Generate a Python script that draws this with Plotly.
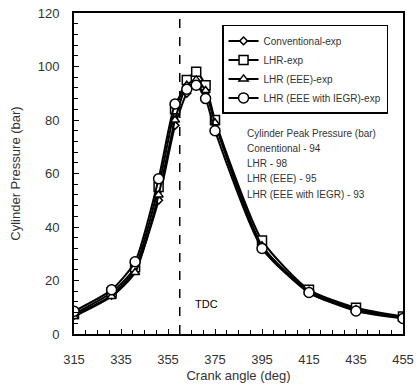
import plotly.graph_objects as go

crank_angle = [315, 331, 341, 351, 358, 363, 367, 371, 375, 395, 415, 435, 455]
conventional = [7.0, 14.5, 24.0, 50.0, 78.0, 90.0, 94.0, 91.0, 79.0, 33.0, 15.5, 9.0, 6.0]
lhr = [7.5, 15.5, 25.0, 55.0, 84.0, 95.0, 98.0, 93.0, 80.0, 35.0, 16.5, 9.8, 6.5]
lhr_eee = [6.5, 14.0, 23.0, 52.0, 80.0, 93.0, 95.0, 91.0, 79.0, 33.0, 16.0, 9.2, 6.3]
lhr_eee_iegr = [8.5, 16.5, 27.0, 58.0, 86.0, 91.5, 93.0, 88.0, 76.0, 32.0, 15.5, 8.6, 5.8]

series_names = ["Conventional-exp", "LHR-exp", "LHR (EEE)-exp", "LHR (EEE with IEGR)-exp"]
series_values = [conventional, lhr, lhr_eee, lhr_eee_iegr]
symbols = ["diamond", "square", "triangle-up", "circle"]
sizes = [6, 9, 8, 10]

TDC = 360
peak_lines = ["Cylinder Peak Pressure (bar)", "Conentional - 94", "LHR - 98",
              "LHR (EEE) - 95", "LHR (EEE with IEGR) - 93"]

FONT = "Liberation Sans"
TXT = "#333333"

fig = go.Figure()
for name, vals, sym, sz in zip(series_names, series_values, symbols, sizes):
    fig.add_trace(go.Scatter(
        x=crank_angle, y=vals, name=name, mode="lines+markers",
        line=dict(color="black", width=2, shape="spline", smoothing=0.6),
        marker=dict(symbol=sym, size=sz, color="white",
                    line=dict(color="black", width=1.5)),
    ))

fig.add_vline(x=TDC, line=dict(color="black", width=1.5, dash="dash"))

fig.add_annotation(x=TDC + 11.5, y=11.2, xref="x", yref="y", text="TDC",
                   showarrow=False, font=dict(family=FONT, size=11, color="black"))

for i, t in enumerate(peak_lines):
    fig.add_annotation(x=0.519, y=0.626 - i * 0.0475, xref="paper", yref="paper",
                       xanchor="left", yanchor="middle", text=t, showarrow=False,
                       font=dict(family=FONT, size=10, color=TXT))

fig.update_layout(
    width=420, height=385,
    margin=dict(l=74, r=17, t=13, b=51),
    paper_bgcolor="white", plot_bgcolor="white",
    font=dict(family=FONT, color=TXT, size=13),
    showlegend=True,
    legend=dict(x=0.45, y=0.963, xanchor="left", yanchor="top",
                bgcolor="white", bordercolor="black", borderwidth=1.5,
                font=dict(family=FONT, size=10, color=TXT),
                tracegroupgap=3, itemwidth=30),
    xaxis=dict(range=[315, 455], tick0=315, dtick=20, ticks="inside", ticklen=5,
               tickcolor="black", showgrid=False, zeroline=False, automargin=False,
               showline=True, linecolor="black", linewidth=2, mirror=True,
               ticklabelstandoff=12,
               minor=dict(dtick=5, tick0=315, ticks="inside", ticklen=4, tickcolor="black"),
               title=dict(text="Crank angle (deg)", standoff=5,
                          font=dict(family=FONT, size=13, color=TXT)),
               tickfont=dict(family=FONT, size=13, color=TXT)),
    yaxis=dict(range=[0, 120], dtick=20, ticks="inside", ticklen=5,
               tickcolor="black", showgrid=False, zeroline=False, automargin=False,
               showline=True, linecolor="black", linewidth=2, mirror=True,
               ticklabelstandoff=10,
               minor=dict(dtick=4, ticks="inside", ticklen=4, tickcolor="black"),
               title=dict(text="Cylinder Pressure (bar)", standoff=14,
                          font=dict(family=FONT, size=13, color=TXT)),
               tickfont=dict(family=FONT, size=13, color=TXT)),
)

fig.write_html("out.html", config={"displayModeBar": False},
               post_script="document.body.style.margin='0';document.body.style.overflow='hidden';")
